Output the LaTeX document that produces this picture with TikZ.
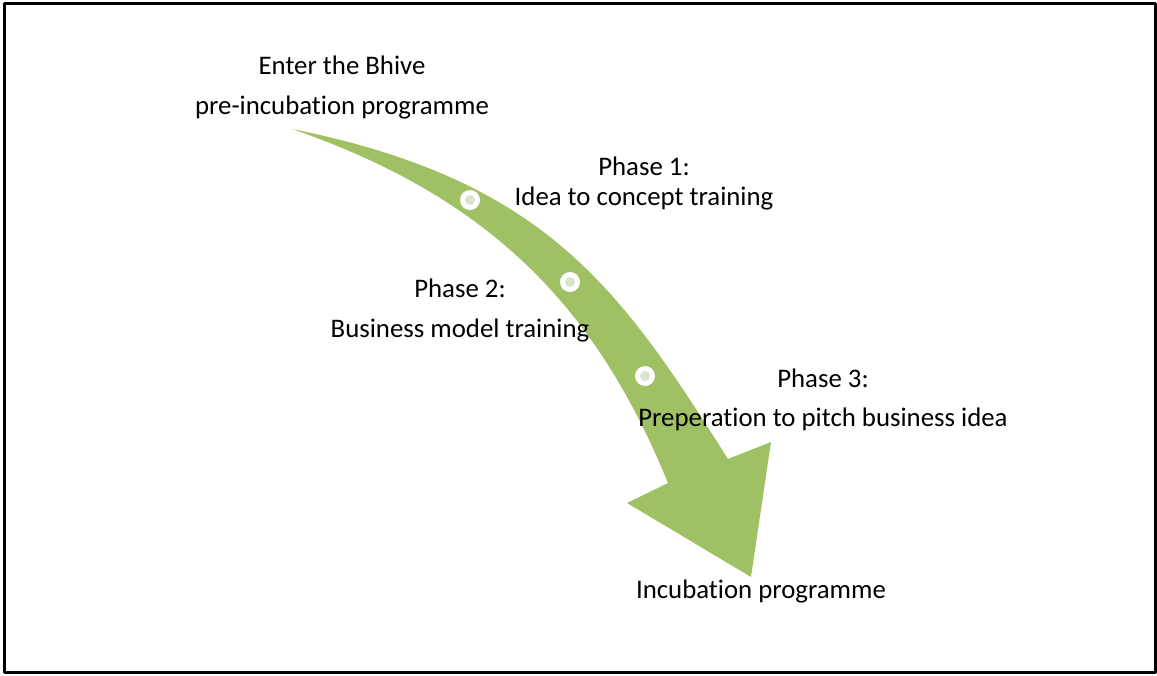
\documentclass[tikz,border=0pt]{standalone}
\usepackage{fontspec}
\setmainfont[Ligatures=NoCommon]{Carlito}
\usepackage{tikz}
\usetikzlibrary{positioning}
\definecolor{verdefreccia}{RGB}{160,192,100}
\definecolor{puntino}{RGB}{216,228,204}

\begin{document}
\begin{tikzpicture}[line cap=round,line join=round,x=0.5pt,y=-0.5pt,
		testo/.style={align=center,font=\fontsize{13.4}{16.3}\selectfont,inner sep=0pt},
		tappa/.style={circle,fill=white,minimum size=10pt,inner sep=0pt}]
		\useasboundingbox (0,0) rectangle (1157,675);
		\draw[line width=1.5pt] (4,3) rectangle (1155,672); %cornice
		% freccia curva
		\fill[verdefreccia] (292,129) .. controls (547,180) and (621,290) .. (728,459)
			-- (771,442) -- (751,577) -- (627,503) -- (668,483)
			.. controls (598,312) and (495,199) .. (292,129) -- cycle;
		\node[tappa] (t1) at (470,200) {};
		\node[tappa] (t2) at (570,282) {};
		\node[tappa] (t3) at (645,376) {};
		\fill[puntino] (t1) circle[radius=5] (t2) circle[radius=5] (t3) circle[radius=5];
		\node[testo] (ingresso) at (342,87.5) {Enter the Bhive\\[3.7pt]pre-incubation programme};
		\node[testo] (fase1) at (644,183.5) {Phase 1:\\[-1.3pt]Idea to concept training};
		\node[testo] (fase2) at (460,310.5) {Phase 2:\\[3.7pt]Business model training};
		\node[testo] (fase3) at (823,399.5) {Phase 3:\\[3.2pt]Preperation to pitch business idea};
		\node[testo] (incubazione) at (761,591) {Incubation programme};
\end{tikzpicture}
\end{document}
